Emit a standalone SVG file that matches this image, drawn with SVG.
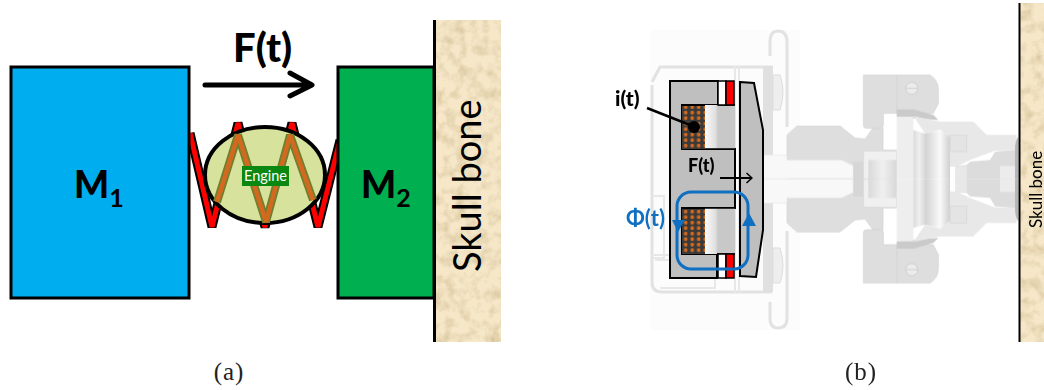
<svg xmlns="http://www.w3.org/2000/svg" width="1044" height="390" viewBox="0 0 1044 390">
<style>
.lbl{font-family:"Lato","Open Sans","Liberation Sans",sans-serif}
.cap{font-family:"Liberation Serif",serif;font-size:25px;fill:#222;text-anchor:middle;letter-spacing:1px}
.g1{fill:#dedede;stroke:#d2d2d2;stroke-width:2}
.gl{fill:none;stroke:#e2e2e2;stroke-width:3}
</style>
<defs>
<filter id="tex" x="0" y="0" width="100%" height="100%">
<feTurbulence type="fractalNoise" baseFrequency="0.09" numOctaves="4" seed="4"/>
<feColorMatrix values="0 0 0 0 .62  0 0 0 0 .48  0 0 0 0 .25  1.5 0 0 0 -.62"/>
<feComposite in2="SourceGraphic" operator="in" result="n"/>
<feMerge><feMergeNode in="SourceGraphic"/><feMergeNode in="n"/></feMerge>
</filter>
<filter id="soft"><feGaussianBlur stdDeviation="0.5"/></filter>
<pattern id="coil" width="6.500" height="5.500" patternUnits="userSpaceOnUse">
<rect width="6.500" height="5.500" fill="#3a3a3a"/><circle cx="3.200" cy="2.700" r="1.900" fill="#d2691e"/>
</pattern>
<linearGradient id="ring" x1="0" x2="1" y1="0" y2="0"><stop offset="0" stop-color="#d2d2d2"/><stop offset=".6" stop-color="#fafafa"/><stop offset="1" stop-color="#d0d0d0"/></linearGradient>
<linearGradient id="pist" x1="0" x2="1" y1="0" y2="0"><stop offset="0" stop-color="#dadada"/><stop offset=".5" stop-color="#f0f0f0"/><stop offset="1" stop-color="#d8d8d8"/></linearGradient>
<linearGradient id="slot" x1="0" x2="1" y1="0" y2="0"><stop offset="0" stop-color="#fafafa"/><stop offset=".8" stop-color="#e0e0e0"/><stop offset="1" stop-color="#c8c8c8"/></linearGradient>
<marker id="blk" viewBox="0 0 14 24" refX="13" refY="12" markerWidth="7" markerHeight="12" markerUnits="userSpaceOnUse" orient="auto"><path d="M2 2L13 12L2 22" fill="none" stroke="#000" stroke-width="3"/></marker>
<g id="half">
<path class="g1" d="M-39 165L-9 138L120 138L165 174L195 177L219 144L249 144L249 210L290 210L290 297L-39 297Z"/>
<path d="M-110 225L-39 225L-39 240L125 240L160 257L160 297L-110 297Z" fill="#f8f8f8" stroke="#e6e6e6" stroke-width="2"/>
<rect x="160" y="245" width="32" height="52" fill="#d6d6d6"/>
<path class="g1" d="M190 -15L290 -15L290 100L250 100L250 135Q250 145 240 145L200 145Q190 145 190 135Z"/>
<path class="g1" d="M290 -15L390 -15Q415 0 415 30L415 70L400 100L290 100Z"/>
<circle cx="335" cy="25" r="18" fill="#ececec" stroke="#d0d0d0" stroke-width="3"/>
<path d="M317 25L353 25" stroke="#d0d0d0" stroke-width="3"/>
<path d="M290 88L340 88L400 105L415 120L340 115L290 110Z" fill="#cacaca"/>
<rect x="190" y="213" width="100" height="84" fill="#f0f0f0" stroke="#dadada" stroke-width="2"/>
<rect x="205" y="240" width="85" height="57" fill="url(#pist)"/>
<rect x="290" y="110" width="50" height="187" fill="#eeeeee"/>
<path d="M340 150L375 160L375 297L340 297Z" fill="url(#pist)"/>
<path d="M375 160L420 150L450 170L450 297L375 297Z" fill="url(#ring)"/>
<path fill="#e8e8e8" d="M340 108L420 125L520 125L560 165L650 165L650 210L585 212L510 240L470 260L450 260L450 172L420 148L375 160Z"/>
<rect x="450" y="165" width="50" height="50" fill="#e4e4e4" stroke="#d6d6d6" stroke-width="2"/>
<path d="M465 258L500 255L510 245L570 240L585 215L645 210L645 297L465 297Z" fill="#dcdcdc"/>
<rect x="465" y="258" width="35" height="39" fill="#e8e8e8"/>
<rect x="600" y="258" width="45" height="39" fill="#ececec"/>
<path d="M645 210Q645 180 655 170L655 297L645 297Z" fill="#b4b4b4"/>
</g>
</defs>

<g id="skull-a">
<rect x="434" y="20" width="67" height="322" fill="#f5e7c8" filter="url(#tex)"/>
<line x1="434.500" y1="20" x2="434.500" y2="342" stroke="#000" stroke-width="3"/>
<text class="lbl" transform="translate(481 272) rotate(-90)" font-size="38" fill="#000">Skull bone</text>
</g>

<g id="connectors-a">
<path d="M190 133L212 227L238 123L265 227L292 123L318 227L340 140" fill="none" stroke="#000" stroke-width="9" stroke-linejoin="bevel"/>
<path d="M190 133L212 227L238 123L265 227L292 123L318 227L340 140" fill="none" stroke="#f00" stroke-width="5" stroke-linejoin="bevel"/>
</g>
<g id="engine">
<ellipse cx="265" cy="175" rx="60" ry="48" fill="#d7e39d" stroke="#000" stroke-width="4"/>
<path d="M217 202L238 135L266 222L290 135L313 200" fill="none" stroke="#6f7f30" stroke-width="8" stroke-linejoin="bevel"/>
<path d="M217 202L238 135L266 222L290 135L313 200" fill="none" stroke="#d2691e" stroke-width="4.500" stroke-linejoin="bevel"/>
<rect x="242" y="166" width="47" height="20" fill="#0a880f"/>
<text class="lbl" x="265.500" y="181" font-size="14.500" fill="#fff" text-anchor="middle">Engine</text>
</g>
<g id="m1">
<rect x="11" y="67" width="178" height="231" fill="#00aeef" stroke="#000" stroke-width="3"/>
<text class="lbl" x="74" y="198" font-size="37" font-weight="900" fill="#000">M<tspan font-size="25" font-weight="700" dy="9">1</tspan></text>
</g>
<g id="m2">
<rect x="338" y="67" width="96" height="231" fill="#00b050" stroke="#000" stroke-width="3"/>
<text class="lbl" x="361" y="198" font-size="37" font-weight="900" fill="#000">M<tspan font-size="25" font-weight="700" dy="9">2</tspan></text>
</g>
<g id="force-a">
<text class="lbl" x="233" y="62" font-size="40" font-weight="900" fill="#000">F(t)</text>
<path d="M205 85L311 85M290 73L312 85L290 96" fill="none" stroke="#000" stroke-width="5" stroke-linecap="round" stroke-linejoin="round"/>
</g>
<text class="cap" x="229" y="380">(a)</text>

<g id="ghost" filter="url(#soft)">
<rect x="650" y="30" width="150" height="300" fill="#fcfcfc"/>
<path class="gl" d="M652 85L652 282Q652 292 662 292L772 292M652 82L660 67L772 67"/>
<path class="gl" d="M770 56L770 42Q770 31 778 31Q787 31 787 42L787 127"/>
<path class="gl" d="M770 302L770 318Q770 328 778 328Q787 328 787 318L787 231"/>
<path d="M735 66L735 292M739 66L739 292" stroke="#e8e8e8" stroke-width="2" fill="none"/>
<rect x="763" y="66" width="10" height="226" fill="#e0e0e0"/>
<path d="M773 75L780 75Q786 92 780 110L773 110Z M773 248L780 248Q786 266 780 283L773 283Z" fill="#eeeeee" stroke="#dddddd"/>
<rect x="763" y="155" width="80" height="48" fill="#f8f8f8"/>
<path d="M652 196L664 196L664 258L652 258M652 255L700 255M655 260L715 260L715 288L660 288" fill="none" stroke="#e8e8e8" stroke-width="2"/>
<g transform="translate(800 80) scale(.3333)">
<use href="#half"/>
<use href="#half" transform="matrix(1 0 0 -1 0 594)"/>
</g>
</g>

<g id="skull-b">
<rect x="1019" y="3" width="25" height="339" fill="#f5e7c8" filter="url(#tex)"/>
<line x1="1019.500" y1="3" x2="1019.500" y2="342" stroke="#000" stroke-width="2"/>
<text class="lbl" transform="translate(1042 228) rotate(-90)" font-size="17" fill="#000">Skull bone</text>
</g>

<g id="core">
<path d="M670 81L718 81L718 105L682 105L682 149L735 149L735 208L682 208L682 254L717 254L717 278L670 278Z" fill="#bfbfbf" stroke="#000" stroke-width="2"/>
<rect x="705" y="105" width="13" height="44" fill="url(#slot)"/>
<rect x="705" y="208" width="13" height="46" fill="url(#slot)"/>
<rect x="718" y="105" width="17" height="44" fill="#c8c8c8"/>
<rect x="718" y="208" width="17" height="46" fill="#c8c8c8"/>
<path d="M718 105L735 105M705 149L735 149M705 208L735 208M717 254L735 254" stroke="#000" stroke-width="1.500"/>
</g>
<g id="coils">
<rect x="682" y="106" width="23" height="43" fill="url(#coil)"/>
<rect x="682" y="209" width="23" height="45" fill="url(#coil)"/>
</g>
<g id="gaps">
<rect x="718" y="81" width="8" height="24" fill="#fff" stroke="#000" stroke-width="1.500"/>
<rect x="726" y="81" width="8" height="24" fill="#f00" stroke="#000" stroke-width="1.500"/>
<rect x="718" y="254" width="8" height="24" fill="#fff" stroke="#000" stroke-width="1.500"/>
<rect x="726" y="254" width="8" height="24" fill="#f00" stroke="#000" stroke-width="1.500"/>
</g>
<g id="armature">
<path d="M740 82L754 83L763 130L763 230L756 277L740 276Z" fill="#bfbfbf" stroke="#000" stroke-width="2"/>
</g>
<g id="flux" fill="#0f6fc0">
<rect x="677" y="192" width="71" height="77" rx="14" fill="none" stroke="#0f6fc0" stroke-width="3"/>
<path d="M672 220L685 220L678 232Z"/>
<path d="M742 226L756 226L749 213Z"/>
<text class="lbl" x="626" y="226" font-size="22" font-weight="700">Φ(t)</text>
</g>
<g id="labels-b" fill="#000">
<text class="lbl" x="615" y="106" font-size="21" font-weight="900">i(t)</text>
<line x1="647" y1="108" x2="690" y2="125" stroke="#000" stroke-width="2.500"/>
<circle cx="694" cy="127" r="6"/>
<text class="lbl" x="688" y="172" font-size="18" font-weight="900">F(t)</text>
<line x1="720" y1="178" x2="752" y2="178" stroke="#000" stroke-width="2" marker-end="url(#blk)"/>
</g>
<text class="cap" x="861" y="380">(b)</text>
</svg>
